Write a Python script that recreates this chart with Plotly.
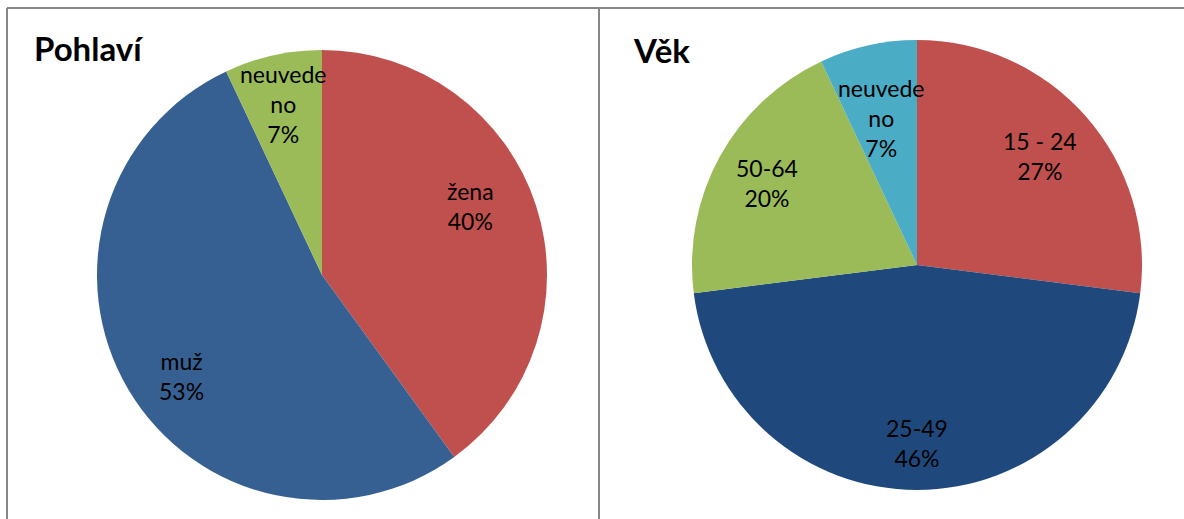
import math
import plotly.graph_objects as go

W, H = 1184, 519

# Data
gender_labels = ["žena", "muž", "neuvedeno"]
gender_values = [40, 53, 7]
gender_display = ["žena", "muž", "neuvede<br>no"]
gender_colors = ["#C0504D", "#376092", "#9BBB59"]

age_labels = ["15 - 24", "25-49", "50-64", "neuvedeno"]
age_values = [27, 46, 20, 7]
age_display = ["15 - 24", "25-49", "50-64", "neuvede<br>no"]
age_colors = ["#C0504D", "#1F497D", "#9BBB59", "#4BACC6"]

FONT = "Lato, 'Open Sans', sans-serif"

# Pie geometry (pixels): center x, center y (from top), radius
left_geo = (322, 275, 225)
right_geo = (917, 265, 225)


def domain(geo):
    cx, cy, r = geo
    return dict(x=[(cx - r) / W, (cx + r) / W],
                y=[(H - cy - r) / H, (H - cy + r) / H])


fig = go.Figure()
fig.add_trace(go.Pie(
    labels=gender_labels, values=gender_values, sort=False,
    direction="clockwise", rotation=0,
    marker=dict(colors=gender_colors, line=dict(width=0)),
    textinfo="none", hoverinfo="label+percent",
    domain=domain(left_geo), showlegend=False,
))
fig.add_trace(go.Pie(
    labels=age_labels, values=age_values, sort=False,
    direction="clockwise", rotation=0,
    marker=dict(colors=age_colors, line=dict(width=0)),
    textinfo="none", hoverinfo="label+percent",
    domain=domain(right_geo), showlegend=False,
))

annotations = []


def add_labels(values, display, geo, fracs, nudges):
    cx, cy, r = geo
    total = sum(values)
    cum = 0
    for v, d, f, n in zip(values, display, fracs, nudges):
        mid = (cum + v / 2) / total * 2 * math.pi + math.radians(n)
        cum += v
        px = cx + f * r * math.sin(mid)
        py = cy - f * r * math.cos(mid)
        pct = round(v / total * 100)
        annotations.append(dict(
            x=px / W, y=1 - py / H, xref="paper", yref="paper",
            text=f"{d}<br>{pct}%", showarrow=False,
            xanchor="center", yanchor="middle", align="center",
            font=dict(family=FONT, size=23, color="#000000"),
        ))


add_labels(gender_values, gender_display, left_geo, [0.73, 0.77, 0.78], [-7, -5, 0])
add_labels(age_values, age_display, right_geo, [0.73, 0.79, 0.76, 0.67], [0, 0, 0, -1])

# Titles
annotations.append(dict(x=32 / W, y=1 - 48 / H, xref="paper", yref="paper",
                        text="<b>Pohlaví</b>", showarrow=False,
                        xanchor="left", yanchor="middle",
                        font=dict(family=FONT, size=33, color="#000000")))
annotations.append(dict(x=631 / W, y=1 - 50 / H, xref="paper", yref="paper",
                        text="<b>Věk</b>", showarrow=False,
                        xanchor="left", yanchor="middle",
                        font=dict(family=FONT, size=33, color="#000000")))

border = dict(color="#868686", width=2)
shapes = [
    dict(type="line", xref="paper", yref="paper", x0=7 / W, x1=1, y0=1 - 8 / H, y1=1 - 8 / H, line=border),
    dict(type="line", xref="paper", yref="paper", x0=7 / W, x1=7 / W, y0=0, y1=1 - 8 / H, line=border),
    dict(type="line", xref="paper", yref="paper", x0=599 / W, x1=599 / W, y0=0, y1=1 - 8 / H, line=border),
]

fig.update_layout(
    width=W, height=H,
    margin=dict(l=0, r=0, t=0, b=0),
    paper_bgcolor="#FFFFFF", plot_bgcolor="#FFFFFF",
    annotations=annotations, shapes=shapes,
    font=dict(family=FONT),
)

fig.write_html("out.html",
               config={"displayModeBar": False},
               post_script="document.body.style.margin='0';document.body.style.padding='0';")
